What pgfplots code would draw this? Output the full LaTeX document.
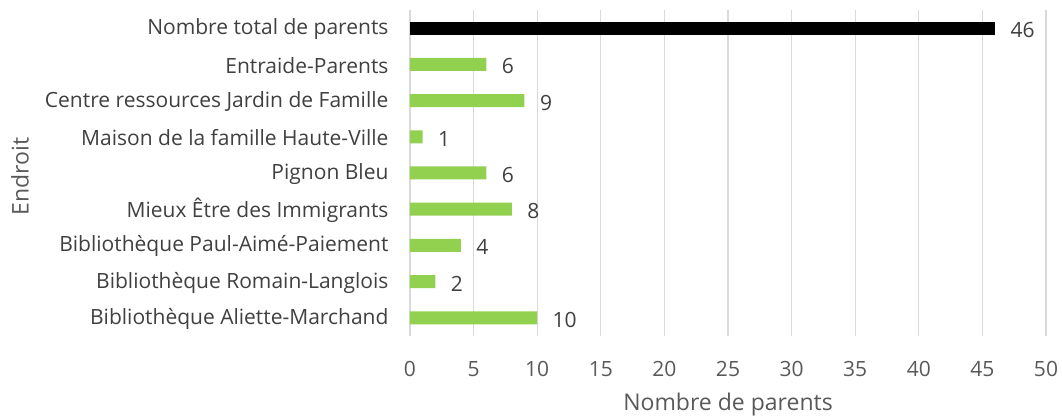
\documentclass[border=0pt]{standalone}
\usepackage{fontspec}
\setmainfont{Open Sans}
\usepackage{pgfplots}
\pgfplotsset{compat=1.18}
\definecolor{barGreen}{HTML}{92D050}
\definecolor{txt}{HTML}{404040}
\definecolor{tick}{HTML}{595959}
\definecolor{gridc}{HTML}{D9D9D9}
\begin{document}
\begin{tikzpicture}
\path[use as bounding box] (-410pt,-83pt) rectangle (652pt,336pt);
\begin{axis}[
  at={(0,0)}, anchor=south west,
  scale only axis, width=636pt, height=326pt,
  xmin=0, xmax=50, ymin=-0.5, ymax=8.5,
  xbar, bar width=13pt, bar shift=0pt,
  axis line style={draw=none},
  major tick length=0pt,
  xtick={0,5,...,50},
  ytick={0,...,8},
  yticklabels={Bibliothèque Aliette-Marchand,Bibliothèque Romain-Langlois,Bibliothèque Paul-Aimé-Paiement,Mieux Être des Immigrants,Pignon Bleu,Maison de la famille Haute-Ville,Centre ressources Jardin de Famille,Entraide-Parents,Nombre total de parents},
  xmajorgrids, grid style={gridc, line width=1.2pt},
  /pgf/number format/assume math mode=true,
  x tick label style={font=\fontsize{21}{24}\selectfont, text=tick, anchor=center, yshift=-33pt},
  y tick label style={font=\fontsize{21}{24}\selectfont, text=txt, xshift=-18pt, yshift=-1pt},
  xlabel={Nombre de parents}, ylabel={Endroit},
  label style={font=\fontsize{23}{26}\selectfont, text=tick},
  xlabel style={at={(rel axis cs:0.5,0)}, anchor=center, yshift=-69pt},
  ylabel style={at={(rel axis cs:-0.6132,0.49)}, anchor=center, rotate=0},
  nodes near coords,
  nodes near coords style={font=\fontsize{21}{24}\selectfont, text=txt, anchor=west, xshift=12pt, yshift=-2pt},
  point meta=x,
]
\addplot[fill=barGreen, draw=none] coordinates {
(10,0) (2,1) (4,2) (8,3) (6,4) (1,5) (9,6) (6,7)};
\addplot[fill=black, draw=none] coordinates {(46,8)};
\end{axis}
\end{tikzpicture}
\end{document}
